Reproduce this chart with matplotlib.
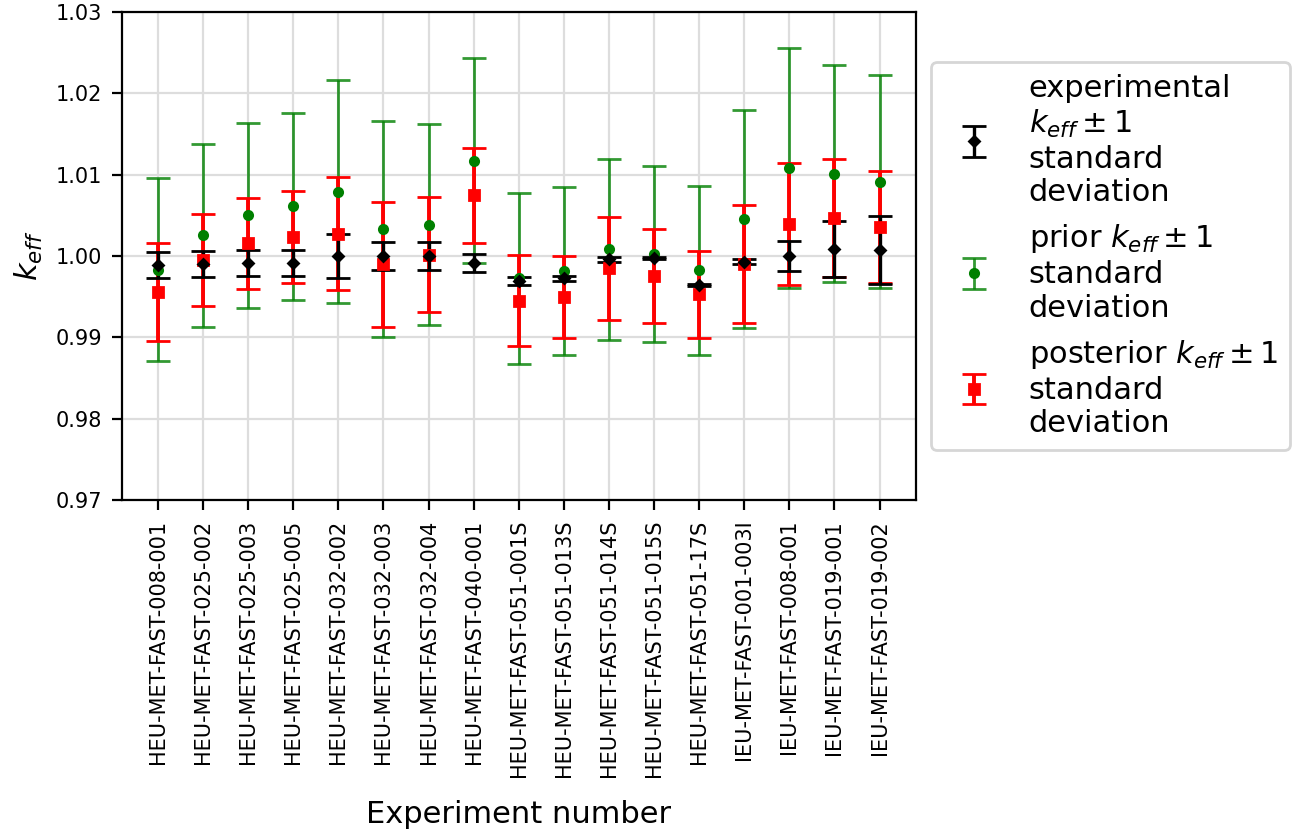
import numpy as np
import matplotlib
matplotlib.use("Agg")
import matplotlib.pyplot as plt

# benchmark experiments
experiments = [
    "HEU-MET-FAST-008-001", "HEU-MET-FAST-025-002", "HEU-MET-FAST-025-003",
    "HEU-MET-FAST-025-005", "HEU-MET-FAST-032-002", "HEU-MET-FAST-032-003",
    "HEU-MET-FAST-032-004", "HEU-MET-FAST-040-001", "HEU-MET-FAST-051-001S",
    "HEU-MET-FAST-051-013S", "HEU-MET-FAST-051-014S", "HEU-MET-FAST-051-015S",
    "HEU-MET-FAST-051-17S", "IEU-MET-FAST-001-003I", "IEU-MET-FAST-008-001",
    "IEU-MET-FAST-019-001", "IEU-MET-FAST-019-002",
]

exp_keff = [0.99889, 0.99903, 0.99912, 0.99912, 1.0000, 1.0000, 1.0000, 0.9991,
            0.99692, 0.99725, 0.99959, 0.99975, 0.99647, 0.99932, 1.0000,
            1.00086, 1.00072]
exp_sigma = [0.00156, 0.00162, 0.00162, 0.00162, 0.00267, 0.00175, 0.00175,
             0.00111, 0.00053, 0.00033, 0.00029, 0.0001, 0.0001, 0.00031,
             0.00185, 0.00345, 0.00421]

prior_keff = [0.99832, 1.00255, 1.00499, 1.0061, 1.00791, 1.00333, 1.00386,
              1.01172, 0.99725, 0.99811, 1.00084, 1.00025, 0.99825, 1.00458,
              1.01082, 1.01013, 1.00914]
prior_sigma = [0.01121, 0.01121, 0.0114, 0.01148, 0.0137, 0.01322, 0.01232,
               0.01255, 0.01055, 0.01031, 0.01111, 0.0108, 0.01037, 0.01341,
               0.01477, 0.01333, 0.01312]

post_keff = [0.99557, 0.99953, 1.00154, 1.00234, 1.00275, 0.99901, 1.00018,
             1.00747, 0.99452, 0.99497, 0.9985, 0.99756, 0.99528, 0.99903,
             1.00393, 1.00466, 1.00355]
post_sigma = [0.00604, 0.00569, 0.00556, 0.00567, 0.00698, 0.00768, 0.00708,
              0.00583, 0.00561, 0.00503, 0.0063, 0.00581, 0.00538, 0.00721,
              0.00754, 0.00725, 0.00684]

x = np.arange(len(experiments))

fig, ax = plt.subplots(figsize=(6.55, 4.17), dpi=200)
fig.subplots_adjust(left=0.093, right=0.699, bottom=0.4, top=0.986)

h_prior = ax.errorbar(x, prior_keff, yerr=prior_sigma, fmt="o", color="green",
                      ecolor=(0.0, 0.5, 0.0, 0.8), ms=3, capsize=4.3,
                      elinewidth=1.0, capthick=1.0,
                      label="prior $k_{eff} \\pm 1$\nstandard\ndeviation")
h_post = ax.errorbar(x, post_keff, yerr=post_sigma, fmt="s", color="red",
                     ms=3.8, capsize=4.3, elinewidth=1.4, capthick=1.0,
                     label="posterior $k_{eff} \\pm 1$\nstandard\ndeviation")
h_exp = ax.errorbar(x, exp_keff, yerr=exp_sigma, fmt="D", color="black",
                    ms=2.8, capsize=4.3, elinewidth=1.2, capthick=1.0,
                    label="experimental\n$k_{eff} \\pm 1$\nstandard\ndeviation")

ax.set_ylim(0.97, 1.03)
ax.set_xticks(x)
ax.set_xticklabels(experiments, rotation=90, fontsize=7.5)
ax.tick_params(axis="y", labelsize=7.5)
ax.set_yticks(np.arange(0.97, 1.0301, 0.01))
ax.grid(True, color="#dddddd", linewidth=0.8)
ax.set_axisbelow(True)
ax.set_xlabel("Experiment number", fontsize=11, labelpad=8)
ax.set_ylabel("$k_{eff}$", fontsize=11)

ax.legend(handles=[h_exp, h_prior, h_post], loc="center left",
          bbox_to_anchor=(1.0, 0.5), fontsize=11)

fig.savefig("out.png", dpi=200)
